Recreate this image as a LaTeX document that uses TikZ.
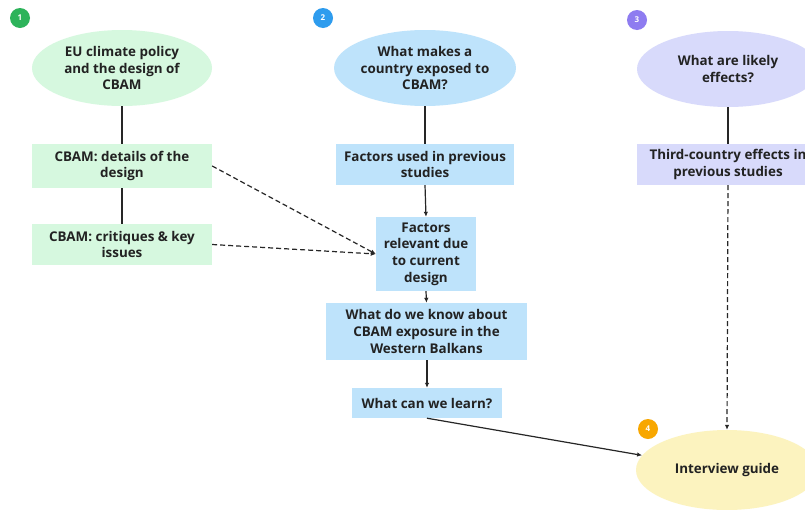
\documentclass[tikz,border=0pt]{standalone}
\usepackage{fontspec}
\setmainfont{Open Sans}
\usetikzlibrary{shapes.geometric,arrows.meta}
\definecolor{gfill}{HTML}{D6F8DF}
\definecolor{bfill}{HTML}{BEE3FB}
\definecolor{pfill}{HTML}{D8DAFB}
\definecolor{yfill}{HTML}{FCF3BF}
\definecolor{gbadge}{HTML}{2DB35A}
\definecolor{bbadge}{HTML}{2E9CEE}
\definecolor{pbadge}{HTML}{8E7CF0}
\definecolor{ybadge}{HTML}{F8A700}
\definecolor{txt}{HTML}{222222}
\tikzset{
  x=1pt, y=-1pt,
  lbl/.style={font=\fontsize{13.4}{16.6}\selectfont\bfseries, text=txt, align=center},
  oval/.style={lbl, ellipse, inner sep=0pt},
  boxn/.style={lbl, rectangle, inner sep=0pt},
  badge/.style={circle, minimum size=20pt, inner sep=0pt, text=white, font=\fontsize{8}{9}\selectfont\bfseries},
  conn/.style={line width=1.2pt, draw=black!85},
  arr/.style={conn, -{Latex[length=5pt,width=4.5pt]}},
  darr/.style={arr, dash pattern=on 5pt off 3pt}
}
\begin{document}
\begin{tikzpicture}
\useasboundingbox (0,0) rectangle (805,509);
\clip (0,0) rectangle (805,509);
\fill[white] (0,0) rectangle (805,509);
% badges
\node[badge, fill=gbadge] (n1) at (20,18) {1};
\node[badge, fill=bbadge] (n2) at (323,18) {2};
\node[badge, fill=pbadge] (n3) at (637,20) {3};
\node[badge, fill=ybadge] (n4) at (648,429) {4};
% column 1
\node[oval, fill=gfill, minimum width=180pt, minimum height=76pt] (e1) at (122,68) {EU climate policy\\and the design of\\CBAM};
\node[boxn, fill=gfill, minimum width=180pt, minimum height=44pt] (b1) at (122,166) {CBAM: details of the\\design};
\node[boxn, fill=gfill, minimum width=180pt, minimum height=41pt] (b2) at (122,244.5) {CBAM: critiques \& key\\issues};
% column 2
\node[oval, fill=bfill, minimum width=178pt, minimum height=76pt] (e2) at (425,68) {What makes a\\country exposed to\\CBAM?};
\node[boxn, fill=bfill, minimum width=178pt, minimum height=41pt] (f1) at (425,164.5) {Factors used in previous\\studies};
\node[boxn, fill=bfill, minimum width=100pt, minimum height=74pt] (f2) at (426,254) {Factors\\relevant due\\to current\\design};
\node[boxn, fill=bfill, minimum width=201pt, minimum height=57pt] (f3) at (426.5,331.5) {What do we know about\\CBAM exposure in the\\Western Balkans};
\node[boxn, fill=bfill, minimum width=150pt, minimum height=30pt] (f4) at (427,403) {What can we learn?};
% column 3
\node[oval, fill=pfill, minimum width=182pt, minimum height=76pt] (e3) at (728,69) {What are likely\\effects?};
\node[boxn, fill=pfill, minimum width=182pt, minimum height=41pt] (t1) at (728,164.5) {Third-country effects in\\previous studies};
% interview
\node[oval, fill=yfill, minimum width=182pt, minimum height=80pt] (iv) at (727,470) {Interview guide};
% connectors
\draw[conn] (e1.south) -- (b1.north);
\draw[conn] (b1.south) -- (b2.north);
\draw[conn] (e2.south) -- (f1.north);
\draw[arr] (f1.south) -- (f2.north);
\draw[arr] (f2.south) -- (f3.north);
\draw[arr] (f3.south -| f4.north) -- (f4.north);
\draw[arr] (f4.south) -- (iv);
\draw[darr] (b1.east) -- (f2.west);
\draw[darr] (b2.east) -- (f2.west);
\draw[conn] (e3.south) -- (t1.north);
\draw[darr] (t1.south) -- (iv.north);
\end{tikzpicture}
\end{document}
